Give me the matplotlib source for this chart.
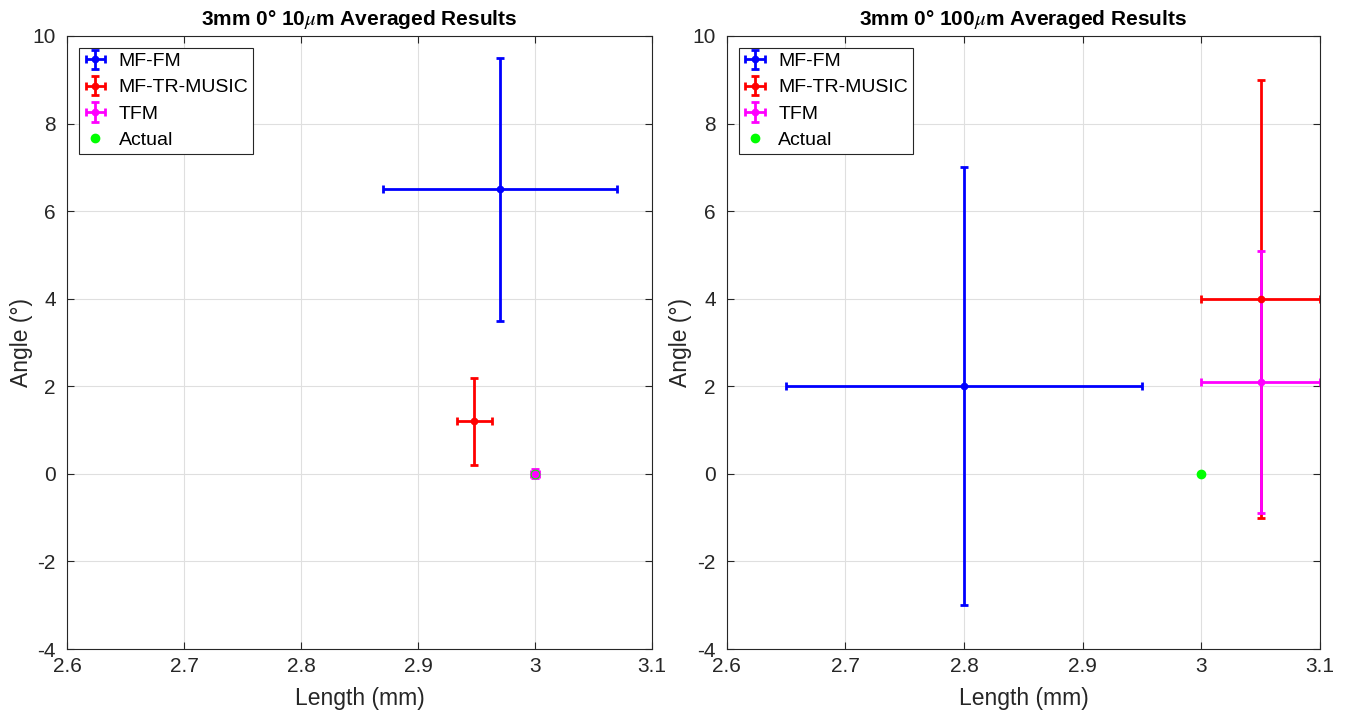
import matplotlib.pyplot as plt

plt.rcParams['font.family'] = ['Liberation Sans', 'DejaVu Sans']
plt.rcParams['mathtext.fontset'] = 'stix'
plt.rcParams['axes.unicode_minus'] = False

# 10 um case: (length, angle, length err, angle err)
names = ['MF-FM', 'MF-TR-MUSIC', 'TFM']
colors = ['#0000ff', '#ff0000', '#ff00ff']

len_10 = [2.97, 2.948, 3.0]
ang_10 = [6.5, 1.2, 0.0]
len_err_10 = [0.1, 0.015, 0.003]
ang_err_10 = [3.0, 1.0, 0.1]

# 100 um case
len_100 = [2.8, 3.05, 3.05]
ang_100 = [2.0, 4.0, 2.1]
len_err_100 = [0.15, 0.05, 0.05]
ang_err_100 = [5.0, 5.0, 3.0]

actual_len = 3.0
actual_ang = 0.0

fig = plt.figure(figsize=(13.46, 7.14), dpi=100)
ax1 = fig.add_axes([0.0498, 0.091, 0.4346, 0.8586])
ax2 = fig.add_axes([0.540, 0.091, 0.4407, 0.8586])

panels = [
    (ax1, len_10, ang_10, len_err_10, ang_err_10, r'3mm 0° 10$\mu$m Averaged Results'),
    (ax2, len_100, ang_100, len_err_100, ang_err_100, r'3mm 0° 100$\mu$m Averaged Results'),
]

for ax, xs, ys, xe, ye, title in panels:
    handles = []
    for i in range(len(names)):
        h = ax.errorbar(xs[i], ys[i], xerr=xe[i], yerr=ye[i], fmt='o', color=colors[i],
                        markersize=4.5, elinewidth=2, capsize=3, capthick=2, label=names[i])
        handles.append(h)
    h, = ax.plot(actual_len, actual_ang, 'o', color='#00ff00', markersize=6, label='Actual')
    handles.append(h)

    ax.set_xlim(2.6, 3.1)
    ax.set_ylim(-4, 10)
    ax.set_xticks([2.6, 2.7, 2.8, 2.9, 3.0, 3.1])
    ax.set_xticklabels(['2.6', '2.7', '2.8', '2.9', '3', '3.1'])
    ax.set_yticks(range(-4, 11, 2))
    ax.grid(True, color='#dfdfdf', linewidth=0.8)
    ax.set_axisbelow(True)
    ax.tick_params(direction='in', labelsize=15, colors='#262626', length=5, width=0.8,
                   top=True, right=True)
    ax.tick_params(axis='y', pad=8)
    ax.tick_params(axis='x', pad=6)
    for s in ax.spines.values():
        s.set_color('#262626')
        s.set_linewidth(0.8)
    ax.set_xlabel('Length (mm)', fontsize=16.5, color='#262626', labelpad=8)
    ax.set_ylabel('Angle (°)', fontsize=16.5, color='#262626', labelpad=0)
    ax.set_title(title, fontsize=15, fontweight='bold', pad=8)
    leg = ax.legend(handles=handles, loc='upper left', fontsize=14, fancybox=False,
                    framealpha=1, edgecolor='#262626', handlelength=1.2, handletextpad=0.6,
                    borderpad=0.25, labelspacing=0.45, borderaxespad=0.6)
    leg.get_frame().set_linewidth(0.8)

fig.savefig('out.png', dpi=100)
